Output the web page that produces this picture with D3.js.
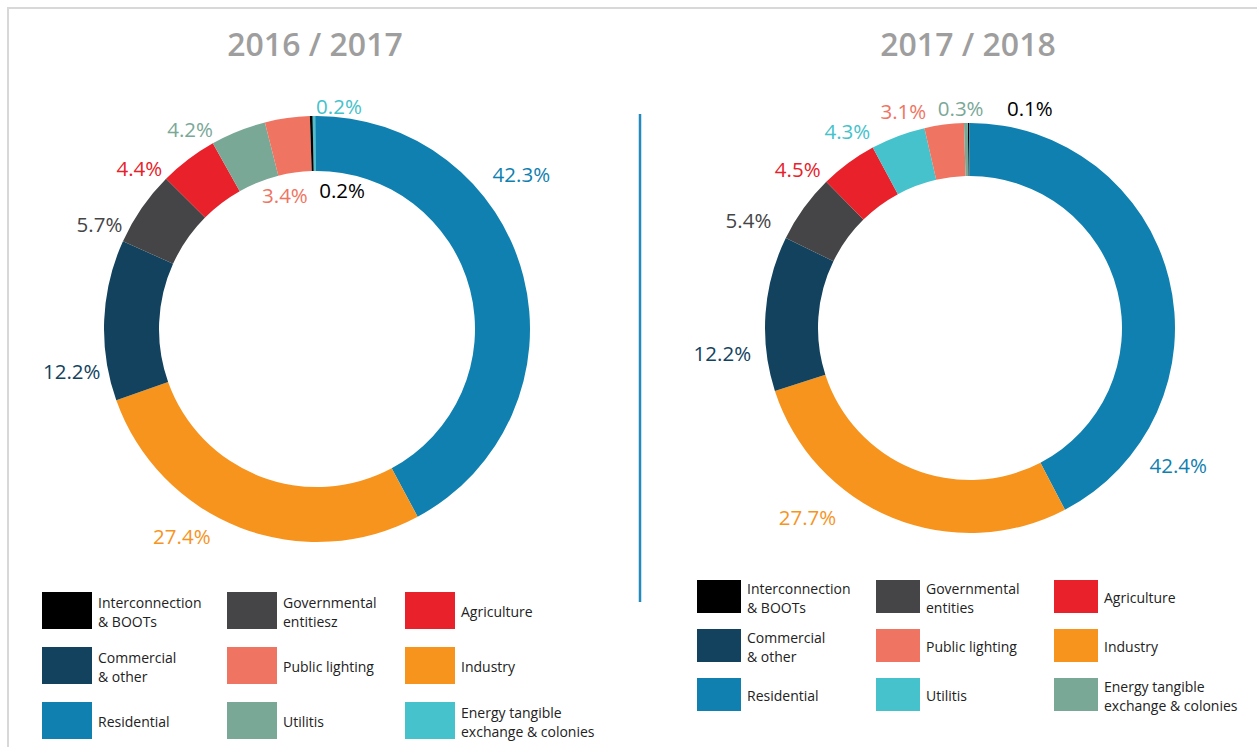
<!DOCTYPE html>
<html>
<head>
<meta charset="utf-8">
<script src="https://cdn.jsdelivr.net/npm/d3@7"></script>
<style>
    body { margin: 0; background: #fff; }
    text { font-family: "Open Sans", "Noto Sans", sans-serif; }
</style>
</head>
<body>
<script>
// sector shares, listed clockwise from 12 o'clock
var sectors1617 = ["Energy tangible", "Residential", "Industry", "Commercial", "Governmental", "Agriculture", "Utilitis", "Public lighting", "Interconnection"];
var share1617 = [0.2, 42.3, 27.4, 12.2, 5.7, 4.4, 4.2, 3.4, 0.2];

var sectors1718 = ["Interconnection", "Residential", "Industry", "Commercial", "Governmental", "Agriculture", "Utilitis", "Public lighting", "Energy tangible"];
var share1718 = [0.1, 42.4, 27.7, 12.2, 5.4, 4.5, 4.3, 3.1, 0.3];

// legend, row by row
var legendKeys = ["Interconnection", "Governmental", "Agriculture", "Commercial", "Public lighting", "Industry", "Residential", "Utilitis", "Energy tangible"];
var legendText1617 = [["Interconnection", "& BOOTs"], ["Governmental", "entitiesz"], ["Agriculture"], ["Commercial", "& other"], ["Public lighting"], ["Industry"], ["Residential"], ["Utilitis"], ["Energy tangible", "exchange & colonies"]];
var legendText1718 = [["Interconnection", "& BOOTs"], ["Governmental", "entities"], ["Agriculture"], ["Commercial", "& other"], ["Public lighting"], ["Industry"], ["Residential"], ["Utilitis"], ["Energy tangible", "exchange & colonies"]];

var W = 1257, H = 747;

var baseColors = {
    "Interconnection": "#000000",
    "Governmental": "#454547",
    "Agriculture": "#e8212a",
    "Commercial": "#12425e",
    "Public lighting": "#f07462",
    "Industry": "#f7941e",
    "Residential": "#0f80b0"
};
// the two years swap the greens
var colors1617 = Object.assign({}, baseColors, { "Utilitis": "#7aa897", "Energy tangible": "#45c2cb" });
var colors1718 = Object.assign({}, baseColors, { "Utilitis": "#45c2cb", "Energy tangible": "#7aa897" });

var svg = d3.select("body").append("svg")
    .attr("width", W)
    .attr("height", H);

// frame
svg.append("path")
    .attr("d", "M8," + H + "V8H" + W)
    .attr("fill", "none")
    .attr("stroke", "#d8d8d8")
    .attr("stroke-width", 2);

// divider
svg.append("line")
    .attr("x1", 640).attr("x2", 640)
    .attr("y1", 114).attr("y2", 602)
    .attr("stroke", "#2489bd")
    .attr("stroke-width", 2.5);

function drawDonut(opt) {
    var g = svg.append("g").attr("transform", "translate(" + opt.cx + "," + opt.cy + ")");
    var rot = opt.rotate * Math.PI / 180;

    var pie = d3.pie().sort(null)
        .startAngle(rot).endAngle(rot + 2 * Math.PI)
        .value((d) => d.v);

    var arcs = pie(opt.sectors.map((s, i) => ({ key: s, v: opt.values[i] })));

    var arc = d3.arc().innerRadius(opt.inner).outerRadius(opt.outer);

    g.selectAll("path")
        .data(arcs)
        .enter()
        .append("path")
        .attr("d", arc)
        .attr("fill", (d) => opt.colors[d.data.key]);

    // labels: nudged off the slice mid angle (deg) at a given radius
    g.selectAll("text.val")
        .data(arcs)
        .enter()
        .append("text")
        .attr("class", "val")
        .attr("transform", function (d, i) {
            var a = (d.startAngle + d.endAngle) / 2 + opt.labelPos[i][0] * Math.PI / 180;
            var r = opt.labelPos[i][1];
            return "translate(" + (r * Math.sin(a)) + "," + (-r * Math.cos(a)) + ")";
        })
        .attr("text-anchor", "middle")
        .attr("dy", "0.35em")
        .style("font-size", "20.5px")
        .attr("fill", (d) => opt.colors[d.data.key])
        .text((d) => d.data.v.toFixed(1) + "%");

    svg.append("text")
        .attr("x", opt.cx - 2)
        .attr("y", 56)
        .attr("text-anchor", "middle")
        .style("font-size", "32px")
        .style("font-weight", 600)
        .attr("fill", "#9e9e9e")
        .text(opt.title);

    // legend grid
    var lg = svg.append("g");
    var item = lg.selectAll("g")
        .data(legendKeys)
        .enter()
        .append("g")
        .attr("transform", (d, i) =>
            "translate(" + opt.lx[i % 3] + "," + (opt.ly + Math.floor(i / 3) * opt.rowStep) + ")");

    item.append("rect")
        .attr("width", opt.sw)
        .attr("height", opt.sh)
        .attr("fill", (d) => opt.colors[d]);

    item.append("text")
        .attr("x", opt.sw + 6)
        .attr("fill", "#222")
        .style("font-size", "14px")
        .each(function (d, i) {
            var lines = opt.legendText[i];
            var t = d3.select(this);
            var y0 = opt.sh / 2 + 2 - (lines.length - 1) * 9.5;
            lines.forEach(function (ln, j) {
                t.append("tspan")
                    .attr("x", opt.sw + 6)
                    .attr("y", y0 + j * 19)
                    .attr("dy", "0.35em")
                    .text(ln);
            });
        });
}

drawDonut({
    title: "2016 / 2017",
    cx: 317, cy: 329, outer: 213, inner: 158, rotate: -1.2,
    sectors: sectors1617, values: share1617, colors: colors1617,
    labelPos: [[6.5, 223], [-22.7, 256], [11.9, 248], [-12.4, 249], [-9.1, 241], [-10.8, 239], [-10.8, 236], [-5.5, 137], [11.9, 140]],
    lx: [42, 227, 405], ly: 592, rowStep: 55, sw: 50, sh: 37,
    legendText: legendText1617
});

drawDonut({
    title: "2017 / 2018",
    cx: 970, cy: 328, outer: 205, inner: 152, rotate: -0.6,
    sectors: sectors1718, values: share1718, colors: colors1718,
    labelPos: [[15.7, 227], [47.5, 250], [18.3, 250], [-10.1, 249], [-10.0, 246], [-11.0, 234], [-11.5, 231], [-9.9, 226], [-1.3, 219]],
    lx: [697, 876, 1054], ly: 580, rowStep: 49, sw: 44, sh: 33,
    legendText: legendText1718
});
</script>
</body>
</html>
